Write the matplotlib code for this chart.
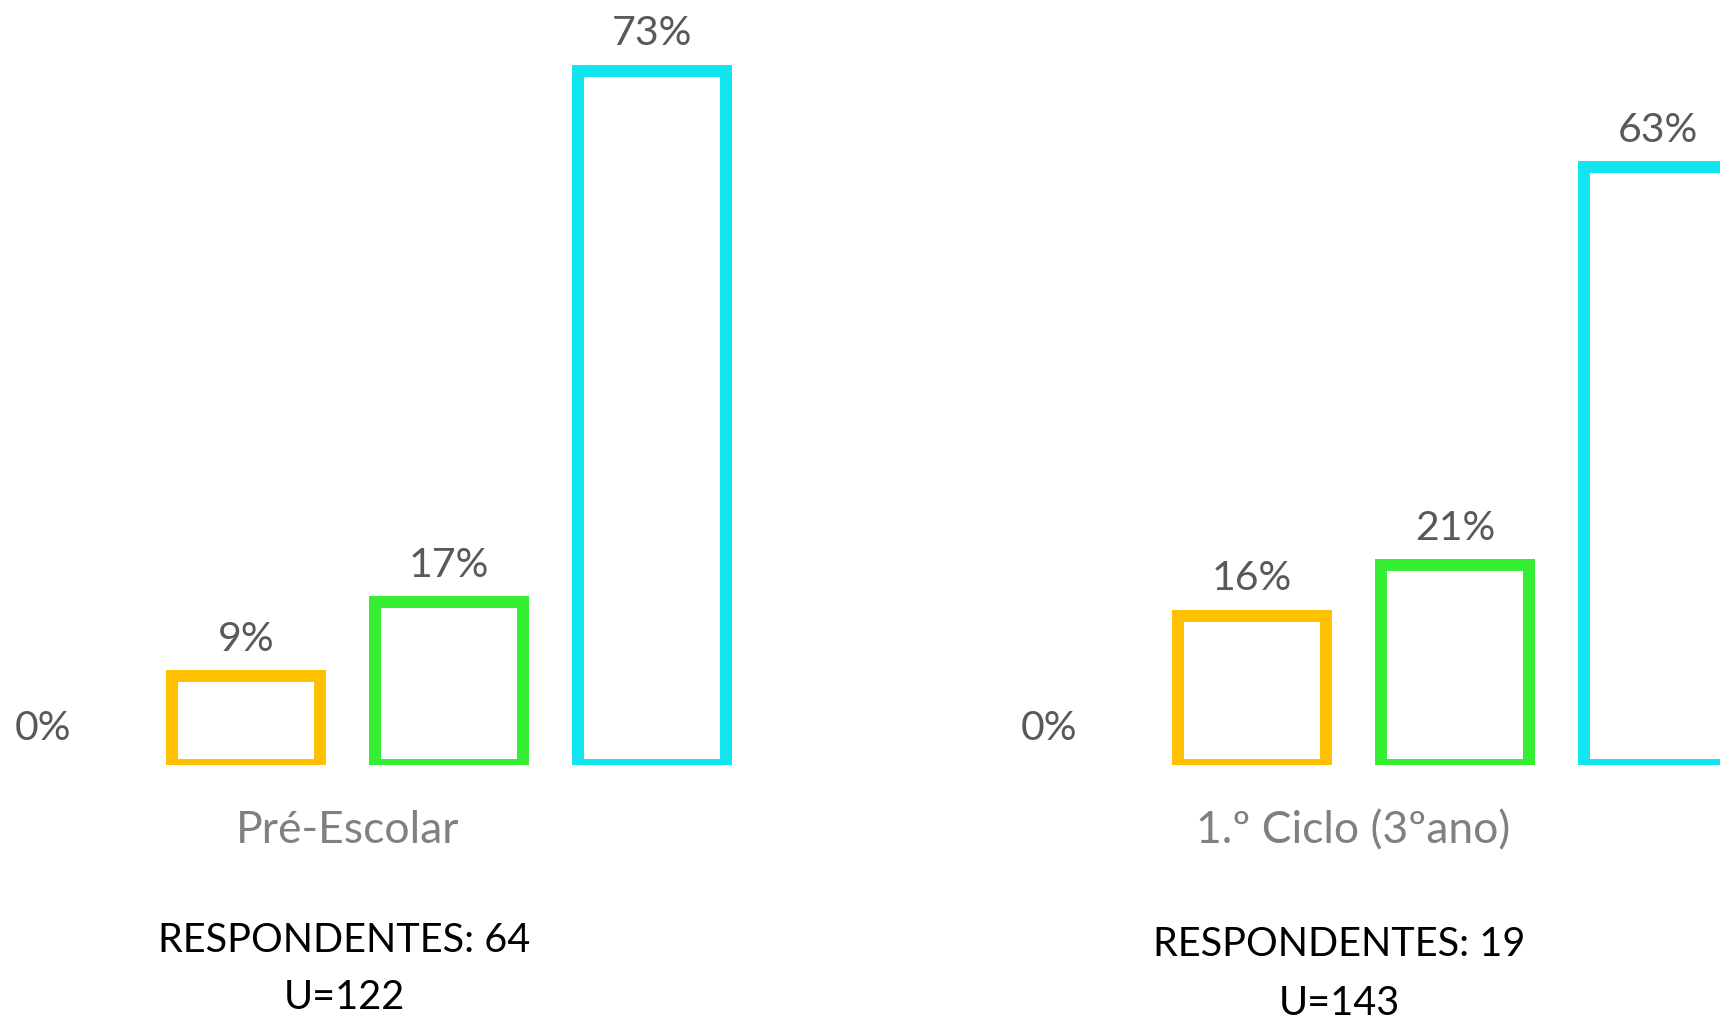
import matplotlib
matplotlib.use("Agg")
import matplotlib.pyplot as plt
from matplotlib.transforms import blended_transform_factory

plt.rcParams['font.family'] = ['Lato', 'DejaVu Sans']

# ---- data ----
categories = ["Pré-Escolar", "1.º Ciclo (3ºano)"]
series_names = ["S0", "S1", "S2", "S3"]
s0_values = [0.0, 0.0]
s1_values = [9.4, 15.8]
s2_values = [17.2, 21.1]
s3_values = [73.4, 63.2]
respondents = ["RESPONDENTES: 64", "RESPONDENTES: 19"]
u_labels = ["U=122", "U=143"]

series_values = [s0_values, s1_values, s2_values, s3_values]
edge_colors = ["none", "#FFC000", "#33EE33", "#10E6F0"]
edge_widths = [0, 8.6, 8.6, 8.6]

W, H = 1720, 1015
fig = plt.figure(figsize=(W / 100, H / 100), dpi=100)
base_px = 765
ymax = 80
px_per_unit = 9.46
ax_h = ymax * px_per_unit
ax = fig.add_axes([0, (H - base_px) / H, 1, ax_h / H])

cat_px0 = 347.5
cat_step = 1006.0
ax.set_xlim(-cat_px0 / cat_step, (W - cat_px0) / cat_step)
ax.set_ylim(0, ymax)

offset = 203.0 / cat_step
bar_w = 148.0 / cat_step
xs = list(range(len(categories)))

for i, vals in enumerate(series_values):
    pos = [x + (i - 1.5) * offset for x in xs]
    ax.bar(pos, vals, width=bar_w, facecolor="none",
           edgecolor=edge_colors[i], linewidth=edge_widths[i],
           joinstyle="miter")
    for p, v in zip(pos, vals):
        ax.annotate(f"{v:.0f}%", (p, v), xytext=(0, 26.5),
                    textcoords="offset points", ha="center", va="center",
                    fontsize=29.5, color="#595959", annotation_clip=False)

ax.set_axis_off()

tr = blended_transform_factory(ax.transData, fig.transFigure)
for x, cat in zip(xs, categories):
    ax.text(x, (H - 843) / H, cat, transform=tr, ha="center", va="baseline",
            fontsize=32, color="#808080")
resp_dx_px = [-3.5, -14.5]
for x, r, u, dx, b1, b2 in zip(xs, respondents, u_labels, resp_dx_px,
                               [952, 956], [1009, 1015]):
    xt = x + dx / cat_step
    ax.text(xt, (H - b1) / H, r, transform=tr, ha="center", va="baseline",
            fontsize=28.5, color="#000000")
    ax.text(xt, (H - b2) / H, u, transform=tr, ha="center", va="baseline",
            fontsize=28.5, color="#000000")

fig.savefig("out.png", dpi=100)
